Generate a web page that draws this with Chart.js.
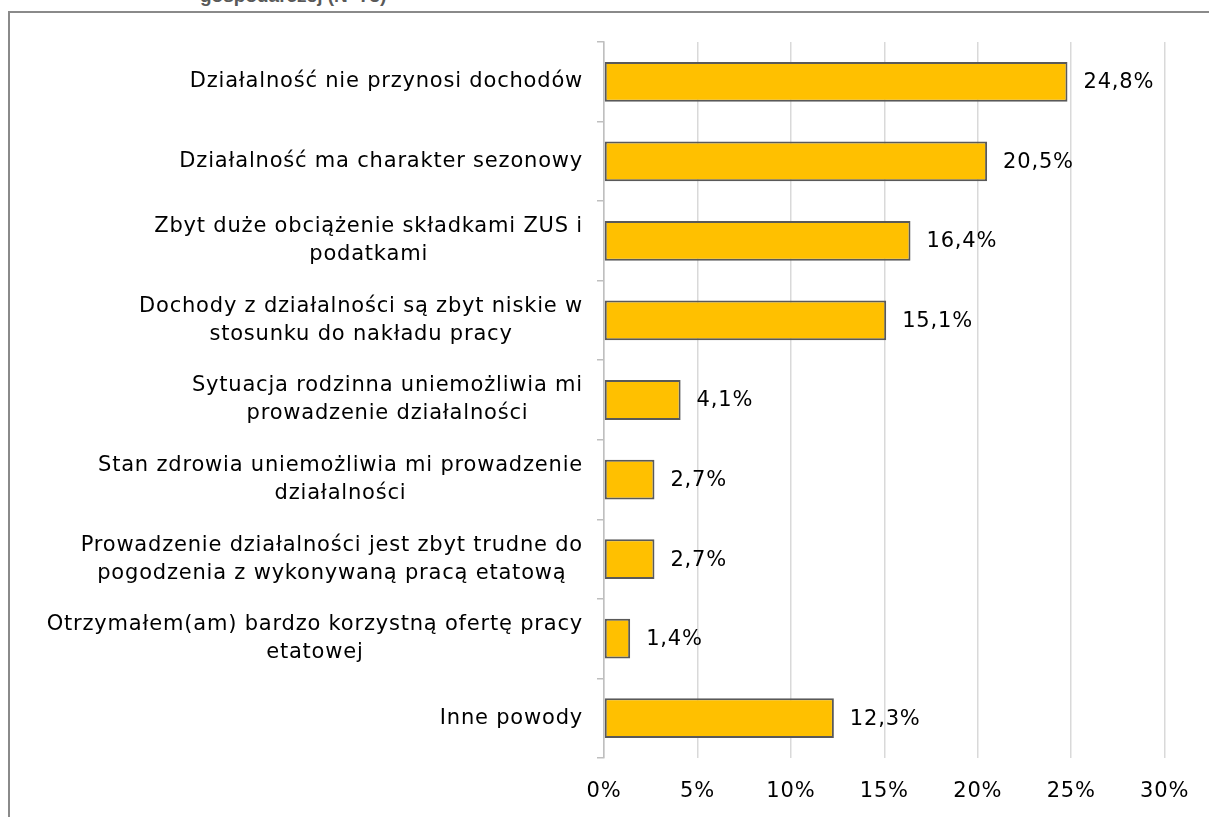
<!DOCTYPE html>
<html lang="pl">
<head>
    <meta charset="UTF-8">
    <title>Powody zawieszenia działalności</title>
    <script src="https://cdn.jsdelivr.net/npm/chart.js"></script>
    <style>
        html, body { margin: 0; padding: 0; background: #fff; overflow: hidden; }
        #wrap { position: relative; width: 1209px; height: 817px; }
        #frame { position: absolute; left: 8px; top: 11px; width: 1300px; height: 900px; border: 2px solid #8a8a8a; box-sizing: border-box; }
        #title { position: absolute; left: 200px; top: -15px; font: bold 19px "Liberation Sans", Arial, sans-serif; color: #595959; white-space: nowrap; }
        canvas { position: absolute; left: 0; top: 0; }
    </style>
</head>
<body>
<div id="wrap">
    <div id="frame"></div>
    <div id="title">gospodarczej (N=73)</div>
    <canvas id="myChart" width="1209" height="817"></canvas>
</div>
<script>
    // dane
    const categories = [
        'Działalność nie przynosi dochodów',
        'Działalność ma charakter sezonowy',
        ['Zbyt duże obciążenie składkami ZUS i', 'podatkami'],
        ['Dochody z działalności są zbyt niskie w', 'stosunku do nakładu pracy'],
        ['Sytuacja rodzinna uniemożliwia mi', 'prowadzenie działalności'],
        ['Stan zdrowia uniemożliwia mi prowadzenie', 'działalności'],
        ['Prowadzenie działalności jest zbyt trudne do', 'pogodzenia z wykonywaną pracą etatową'],
        ['Otrzymałem(am) bardzo korzystną ofertę pracy', 'etatowej'],
        'Inne powody'
    ];
    const values = [24.8, 20.5, 16.4, 15.1, 4.1, 2.7, 2.7, 1.4, 12.3];
    const xTicks = [0, 5, 10, 15, 20, 25, 30];

    const FONT = '"DejaVu Sans", sans-serif';
    const SIZE = 21;

    // szerszy tekst, bliżej oryginalnej czcionki
    const spacing = {
        id: 'spacing',
        beforeDraw(chart) { chart.ctx.letterSpacing = '0.8px'; }
    };

    // etykiety kategorii: blok wyrównany do prawej, linie wyśrodkowane
    const categoryLabels = {
        id: 'categoryLabels',
        afterDraw(chart) {
            const ctx = chart.ctx;
            const y = chart.scales.y;
            ctx.save();
            ctx.font = SIZE + 'px ' + FONT;
            ctx.fillStyle = '#000';
            ctx.textAlign = 'center';
            ctx.textBaseline = 'middle';
            categories.forEach((lab, i) => {
                const lines = Array.isArray(lab) ? lab : [lab];
                const widest = Math.max(...lines.map(l => ctx.measureText(l).width));
                const cx = y.right - 21 - widest / 2;
                const cy = y.getPixelForValue(i);
                lines.forEach((l, j) => {
                    ctx.fillText(l, cx, cy + (j - (lines.length - 1) / 2) * 28);
                });
            });
            ctx.restore();
        }
    };

    // wartości przy końcach słupków
    const valueLabels = {
        id: 'valueLabels',
        afterDatasetsDraw(chart) {
            const ctx = chart.ctx;
            const meta = chart.getDatasetMeta(0);
            ctx.save();
            ctx.font = SIZE + 'px ' + FONT;
            ctx.fillStyle = '#000';
            ctx.textAlign = 'left';
            ctx.textBaseline = 'middle';
            meta.data.forEach((bar, i) => {
                ctx.fillText(values[i].toFixed(1).replace('.', ',') + '%', bar.x + 16, bar.y + 1);
            });
            ctx.restore();
        }
    };

    const ctx = document.getElementById('myChart').getContext('2d');
    new Chart(ctx, {
        type: 'bar',
        data: {
            labels: categories,
            datasets: [{
                data: values,
                backgroundColor: '#FFC000',
                borderColor: '#595959',
                borderWidth: 2,
                borderSkipped: false,
                categoryPercentage: 1,
                barPercentage: 0.5
            }]
        },
        options: {
            indexAxis: 'y',
            responsive: false,
            animation: false,
            layout: { padding: { top: 42, right: 44, left: 0, bottom: 0 } },
            plugins: {
                legend: { display: false },
                tooltip: { enabled: false }
            },
            scales: {
                x: {
                    min: 0,
                    max: 30,
                    afterBuildTicks: scale => { scale.ticks = xTicks.map(v => ({ value: v })); },
                    afterFit: scale => { scale.height = 59; },
                    grid: { color: '#d9d9d9', lineWidth: 1.5, drawTicks: false },
                    border: { display: false },
                    ticks: {
                        padding: 21,
                        color: '#000',
                        font: { family: FONT, size: SIZE },
                        callback: v => v + '%'
                    }
                },
                y: {
                    afterFit: scale => { scale.width = 604; },
                    grid: { drawOnChartArea: false, color: '#bfbfbf', tickLength: 7, lineWidth: 1.5 },
                    border: { display: true, color: '#bfbfbf', width: 1.5 },
                    ticks: { color: 'transparent', font: { family: FONT, size: SIZE } }
                }
            }
        },
        plugins: [spacing, categoryLabels, valueLabels]
    });
</script>
</body>
</html>
